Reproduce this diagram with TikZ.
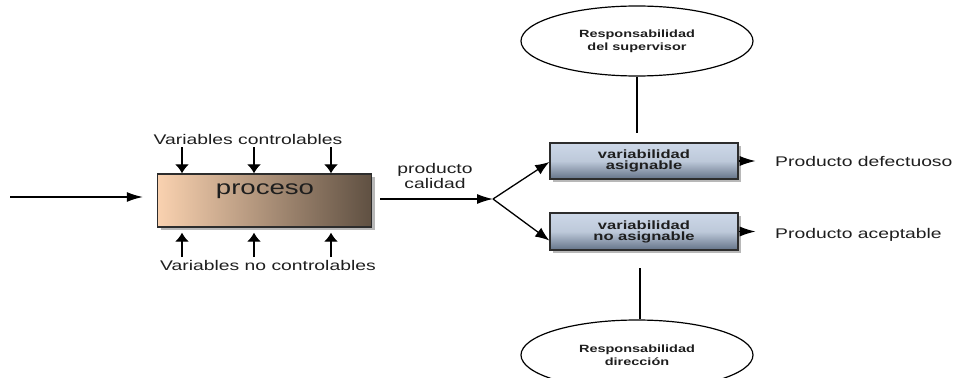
\documentclass[tikz,border=0pt]{standalone}
\usepackage{fontspec}
\setmainfont{Liberation Sans}[FakeStretch=1.38]
\usetikzlibrary{arrows.meta,shapes.geometric,shadows}
\definecolor{txt}{RGB}{30,30,30}
\definecolor{peach}{RGB}{250,210,176}
\definecolor{brownd}{RGB}{95,80,66}
\definecolor{bluelt}{RGB}{205,216,232}
\definecolor{bluedk}{RGB}{100,115,136}
\definecolor{edge}{RGB}{45,45,45}
\tikzset{
  harr/.style={draw=black, line width=1.3pt, -{Latex[length=16pt,width=10pt]}},
  varr/.style={draw=black, line width=1.3pt, -{Latex[length=9pt,width=14pt]}},
  darr/.style={draw=black, line width=1.3pt, -{Latex[length=14pt,width=11pt]}},
  plain/.style={draw=black, line width=1.3pt},
  lbl/.style={text=txt, inner sep=0pt, align=center},
  procbox/.style={draw=edge, line width=1.4pt, minimum width=214pt, minimum height=53pt,
     left color=peach, right color=brownd, inner sep=0pt,
     drop shadow={shadow xshift=3pt, shadow yshift=-3pt, fill=gray!70, opacity=.8}},
  varbox/.style={draw=edge, line width=1.4pt, minimum width=188pt, minimum height=36pt,
     top color=bluelt, bottom color=bluedk, middle color=bluelt!85!bluedk, inner sep=0pt,
     font=\fontsize{12}{11}\selectfont\bfseries, text=txt, align=center,
     drop shadow={shadow xshift=3pt, shadow yshift=-3pt, fill=gray!70, opacity=.8}},
  resp/.style={ellipse, draw=black, line width=1.2pt, minimum width=232pt, minimum height=70pt,
     inner sep=0pt, font=\fontsize{10.5}{13}\selectfont\bfseries, text=txt, align=center}
}
\begin{document}
\begin{tikzpicture}[x=1pt,y=-1pt]
\useasboundingbox (0,0) rectangle (957,377);
\clip (0,0) rectangle (957,377);
% process
\node[procbox] (proc) at (264.5,200.5) {};
\node[lbl, font=\fontsize{20}{22}\selectfont] (proclbl) at (265,191) {proceso};
\node[lbl, font=\fontsize{14}{15}\selectfont] (vc) at (248,139) {Variables controlables};
\node[lbl, font=\fontsize{14}{15}\selectfont] (vnc) at (268,265) {Variables no controlables};
% input
\coordinate (in) at (10,197);
\draw[harr, shorten >=14pt] (in) -- (in -| proc.west);
% control arrows
\foreach \i/\x in {1/182,2/254,3/331}{
  \coordinate (c\i) at (\x,147);
  \coordinate (u\i) at (\x,257);
  \draw[varr] (c\i) -- (c\i |- proc.north);
  \draw[varr, shorten >=5pt] (u\i) -- (u\i |- proc.south);
}
% output
\coordinate (out) at (380,199);
\coordinate (br) at (493,199);
\draw[harr] (out) -- (br);
\node[lbl, font=\fontsize{14}{13}\selectfont] (pc) at (435,176) {producto\\calidad};
% variability boxes
\node[varbox] (va) at (644,161) {variabilidad\\asignable};
\node[varbox, minimum height=37pt] (vna) at (644,231.5) {variabilidad\\no asignable};
\draw[darr] (br) -- ([yshift=-1pt]va.west);
\draw[darr] (br) -- ([yshift=-9pt]vna.west);
% outputs
\draw[harr] (va.east) -- ++(17,0) coordinate (vae);
\draw[harr] (vna.east) -- ++(17,0) coordinate (vnae);
\node[lbl, anchor=west, font=\fontsize{14}{15}\selectfont] (pd) at (775,161) {Producto defectuoso};
\node[lbl, anchor=west, font=\fontsize{14}{15}\selectfont] (pa) at (775,235) {Producto aceptable};
% responsibility ellipses
\node[resp] (sup) at (637,41) {Responsabilidad\\del supervisor};
\node[resp] (dir) at (637,355) {Responsabilidad\\dirección};
\coordinate (supe) at (637,133);
\draw[plain] (sup.south) -- (supe);
\coordinate (dire) at (640,268);
\draw[plain] (dire) -- (dire |- dir.north);
\end{tikzpicture}
\end{document}
